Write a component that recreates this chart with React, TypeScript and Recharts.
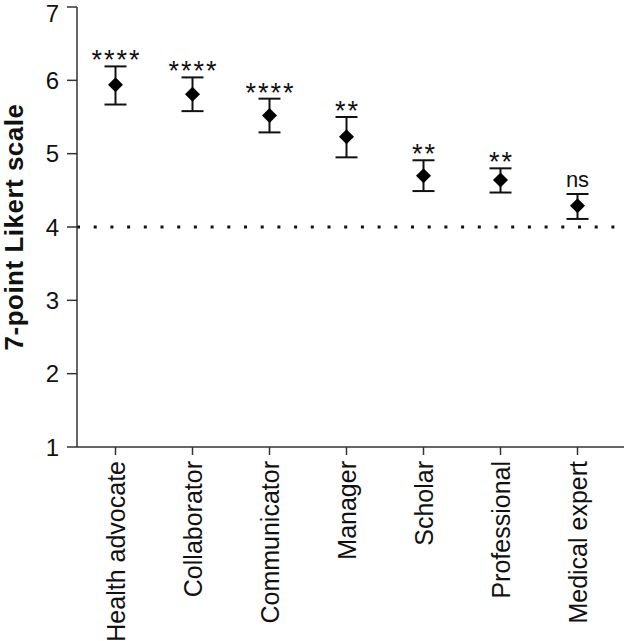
import { ComposedChart, Scatter, XAxis, YAxis, ErrorBar, ReferenceLine } from "recharts";

const roles = ["Health advocate", "Collaborator", "Communicator", "Manager", "Scholar", "Professional", "Medical expert"];
const means = [5.94, 5.81, 5.52, 5.23, 4.7, 4.64, 4.29];
const lower = [5.67, 5.58, 5.29, 4.95, 4.49, 4.47, 4.11];
const upper = [6.19, 6.04, 5.75, 5.5, 4.91, 4.8, 4.45];
const significance = ["****", "****", "****", "**", "**", "**", "ns"];
const yTicks = [1, 2, 3, 4, 5, 6, 7];

const FONT = "'Liberation Sans', Arial, Helvetica, sans-serif";
const AXIS = "#333";

const data = roles.map((role, i) => ({
  role,
  mean: means[i],
  upper: upper[i],
  err: [means[i] - lower[i], upper[i] - means[i]],
  sig: significance[i],
}));

// filled diamond marker
const Diamond = (props: any) => {
  const { cx, cy } = props;
  const r = 7.5;
  return <polygon points={`${cx},${cy - r} ${cx + r},${cy} ${cx},${cy + r} ${cx - r},${cy}`} fill="#000" />;
};

// significance text above the upper whisker
const SigLabel = (props: any) => {
  const { cx, cy, payload } = props;
  const stars = payload.sig !== "ns";
  return (
    <text
      x={cx + (stars ? 1 : 0)}
      y={stars ? cy + 3 : cy - 7}
      textAnchor="middle"
      fontSize={stars ? 27 : 22}
      letterSpacing={stars ? 2 : 0}
      fontFamily={FONT}
      fill="#111"
    >
      {payload.sig}
    </text>
  );
};

const RoleTick = (props: any) => {
  const { x, y, payload } = props;
  return (
    <text
      x={x}
      y={y}
      transform={`rotate(-90, ${x}, ${y})`}
      textAnchor="end"
      dy="0.36em"
      fontSize={25}
      fontFamily={FONT}
      fill="#111"
    >
      {payload.value}
    </text>
  );
};

export default function App() {
  return (
    <div style={{ position: "absolute", left: 0, top: 0, background: "#fff" }}>
      <ComposedChart width={624} height={641} data={data} margin={{ top: 7, right: 0, left: 0, bottom: 0 }}>
        <XAxis
          dataKey="role"
          type="category"
          scale="band"
          interval={0}
          height={194}
          padding={{ left: 0, right: 8 }}
          tickSize={8}
          tickMargin={6}
          tick={<RoleTick />}
          axisLine={{ stroke: AXIS, strokeWidth: 1.5 }}
          tickLine={{ stroke: AXIS, strokeWidth: 1.5 }}
        />
        <YAxis
          type="number"
          domain={[1, 7]}
          ticks={yTicks}
          width={77}
          tickSize={10}
          tickMargin={8}
          tick={{ fontSize: 24, fill: "#111", fontFamily: FONT }}
          axisLine={{ stroke: AXIS, strokeWidth: 1.5 }}
          tickLine={{ stroke: AXIS, strokeWidth: 1.5 }}
          label={{
            value: "7-point Likert scale",
            angle: -90,
            position: "insideLeft",
            offset: 14,
            style: { textAnchor: "middle", fontSize: 26, fontWeight: "bold", fill: "#111", fontFamily: FONT, letterSpacing: 0.5 },
          }}
        />
        <ReferenceLine y={4} stroke="#111" strokeWidth={3} strokeDasharray="3 13.7" />
        <Scatter dataKey="mean" shape={<Diamond />} isAnimationActive={false}>
          <ErrorBar dataKey="err" direction="y" width={11} stroke="#111" strokeWidth={2} />
        </Scatter>
        <Scatter dataKey="upper" shape={<SigLabel />} isAnimationActive={false} />
      </ComposedChart>
    </div>
  );
}
